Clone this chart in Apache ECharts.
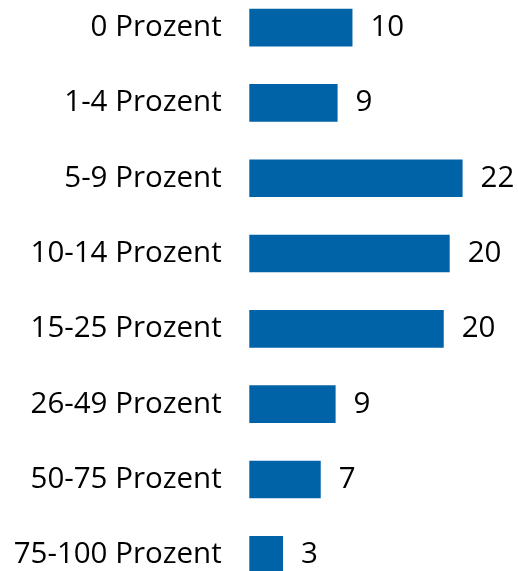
<!DOCTYPE html>
<html>
<head>
<meta charset="utf-8">
<script src="https://cdn.jsdelivr.net/npm/echarts@6/dist/echarts.min.js"></script>
<style>
html,body{margin:0;padding:0;background:#fff;}
#chart{width:518px;height:571px;}
</style>
</head>
<body>
<div id="chart"></div>
<script>
const categories = ['0 Prozent','1-4 Prozent','5-9 Prozent','10-14 Prozent','15-25 Prozent','26-49 Prozent','50-75 Prozent','75-100 Prozent'];
const values = [10.4, 8.9, 21.5, 20.2, 19.6, 8.7, 7.2, 3.4];
const labels = ['10','9','22','20','20','9','7','3'];

const chart = echarts.init(document.getElementById('chart'), null, {renderer:'canvas'});
chart.setOption({
  animation: false,
  grid: {left: 249.3, width: 248, top: -10.1, height: 602.6, containLabel: false, outerBoundsMode: 'none'},
  xAxis: {type: 'value', min: 0, max: 25, show: false},
  yAxis: {
    type: 'category', data: categories, inverse: true,
    axisLine: {show: false}, axisTick: {show: false}, splitLine: {show: false},
    axisLabel: {margin: 27.6, fontFamily: 'Open Sans', fontSize: 29.5, color: '#000'}
  },
  series: [{
    type: 'bar', data: values, barCategoryGap: '50%',
    itemStyle: {color: '#0062A7'},
    label: {
      show: true, position: 'right', distance: 18,
      fontFamily: 'Open Sans', fontSize: 29.5, color: '#000',
      formatter: p => labels[p.dataIndex]
    }
  }]
});
</script>
</body>
</html>
